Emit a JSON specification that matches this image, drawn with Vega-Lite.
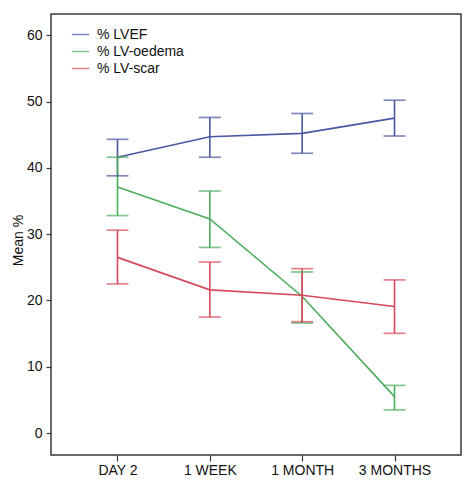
{
  "$schema": "https://vega.github.io/schema/vega-lite/v6.json",
  "width": 410,
  "height": 441,
  "autosize": "none",
  "padding": {"left": 51, "top": 14, "right": 14, "bottom": 33},
  "background": "white",
  "config": {
    "font": "Liberation Sans",
    "view": {"stroke": "#3a3a3a", "strokeWidth": 1.5},
    "axis": {"grid": false, "domain": false, "tickColor": "#3a3a3a", "tickWidth": 1.2, "labelColor": "#111", "titleColor": "#111"}
  },
  "data": {
    "values": [
      {"time": "DAY 2", "series": "% LVEF", "mean": 41.6, "lo": 38.8, "hi": 44.3},
      {"time": "1 WEEK", "series": "% LVEF", "mean": 44.7, "lo": 41.6, "hi": 47.6},
      {"time": "1 MONTH", "series": "% LVEF", "mean": 45.2, "lo": 42.2, "hi": 48.2},
      {"time": "3 MONTHS", "series": "% LVEF", "mean": 47.5, "lo": 44.8, "hi": 50.2},
      {"time": "DAY 2", "series": "% LV-oedema", "mean": 37.1, "lo": 32.8, "hi": 41.6},
      {"time": "1 WEEK", "series": "% LV-oedema", "mean": 32.3, "lo": 28.0, "hi": 36.5},
      {"time": "1 MONTH", "series": "% LV-oedema", "mean": 20.6, "lo": 16.6, "hi": 24.3},
      {"time": "3 MONTHS", "series": "% LV-oedema", "mean": 5.5, "lo": 3.5, "hi": 7.2},
      {"time": "DAY 2", "series": "% LV-scar", "mean": 26.5, "lo": 22.5, "hi": 30.6},
      {"time": "1 WEEK", "series": "% LV-scar", "mean": 21.6, "lo": 17.5, "hi": 25.8},
      {"time": "1 MONTH", "series": "% LV-scar", "mean": 20.8, "lo": 16.8, "hi": 24.8},
      {"time": "3 MONTHS", "series": "% LV-scar", "mean": 19.1, "lo": 15.05, "hi": 23.1}
    ]
  },
  "encoding": {
    "x": {
      "field": "time", "type": "ordinal",
      "sort": ["DAY 2", "1 WEEK", "1 MONTH", "3 MONTHS"],
      "scale": {"type": "point", "padding": 0.72},
      "axis": {"title": null, "labelAngle": 0, "labelFontSize": 14, "tickSize": 6, "labelPadding": 2}
    },
    "color": {
      "field": "series", "type": "nominal",
      "scale": {"domain": ["% LVEF", "% LV-oedema", "% LV-scar"], "range": ["#4a58a0", "#4cad5c", "#d9485a"]},
      "legend": {
        "title": null, "orient": "none", "legendX": 20, "legendY": 11,
        "symbolType": "stroke", "symbolSize": 300, "symbolStrokeWidth": 1.5,
        "labelFontSize": 14, "labelColor": "#111", "rowPadding": 0, "labelOffset": 7
      }
    }
  },
  "layer": [
    {
      "mark": {"type": "line", "strokeWidth": 1.6},
      "encoding": {
        "y": {
          "field": "mean", "type": "quantitative",
          "scale": {"domain": [-3.3, 63.2], "nice": false, "zero": false},
          "axis": {
            "title": "Mean %", "values": [0, 10, 20, 30, 40, 50, 60], "labelFontSize": 14,
            "tickSize": 5, "labelPadding": 4, "titleFontSize": 14, "titleFontWeight": "normal",
            "titleX": -33, "titleY": 226, "titleAngle": -90, "titleAlign": "center", "titleBaseline": "middle"
          }
        }
      }
    },
    {
      "mark": {"type": "rule", "strokeWidth": 1.6},
      "encoding": {
        "y": {"field": "lo", "type": "quantitative"},
        "y2": {"field": "hi"}
      }
    },
    {
      "mark": {"type": "tick", "size": 22, "thickness": 1.7},
      "encoding": {"y": {"field": "lo", "type": "quantitative"}}
    },
    {
      "mark": {"type": "tick", "size": 22, "thickness": 1.7},
      "encoding": {"y": {"field": "hi", "type": "quantitative"}}
    }
  ]
}
